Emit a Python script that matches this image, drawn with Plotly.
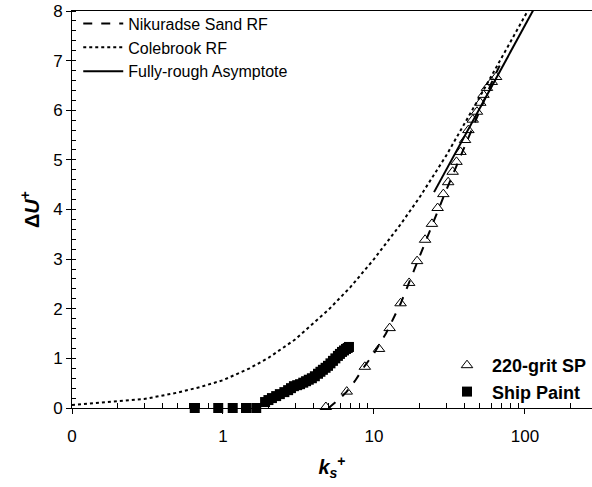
import plotly.graph_objects as go

# ---- data ----
grit_k = [4.8, 6.6, 8.7, 10.8, 12.7, 15.0, 17.1, 19.3, 21.8, 24.2, 26.4, 28.8, 31.0, 33.2,
          35.2, 37.4, 40.1, 42.2, 45.1, 48.1, 50.6, 53.1, 56.0, 60.3, 64.4]
grit_du = [0.02, 0.33, 0.83, 1.19, 1.61, 2.11, 2.52, 2.96, 3.39, 3.71, 4.03, 4.31, 4.55, 4.76,
           4.96, 5.16, 5.40, 5.60, 5.81, 5.97, 6.15, 6.31, 6.45, 6.57, 6.67]

paint_k = [0.65, 0.93, 1.16, 1.42, 1.66, 1.90, 2.0, 2.11, 2.25, 2.38, 2.55, 2.70, 2.82, 2.95,
           3.10, 3.24, 3.40, 3.55, 3.70, 3.88, 4.06, 4.26, 4.42, 4.59, 4.78, 4.96, 5.15,
           5.35, 5.55, 5.77, 5.95, 6.14, 6.33, 6.53, 6.70, 6.83]
paint_du = [0.0, 0.0, 0.0, 0.0, 0.0, 0.12, 0.16, 0.20, 0.24, 0.28, 0.32, 0.36, 0.40, 0.44,
            0.46, 0.48, 0.51, 0.54, 0.57, 0.60, 0.64, 0.69, 0.73, 0.77, 0.81, 0.85, 0.90,
            0.95, 1.00, 1.05, 1.09, 1.13, 1.16, 1.19, 1.21, 1.23]

nik_k = [5.0, 6.0, 6.6, 7.5, 8.7, 10.0, 12.0, 15.0, 18.0, 20.0, 25.0, 30.0, 35.0, 40.0,
         50.0, 60.0, 68.0]
nik_du = [0.0, 0.20, 0.33, 0.55, 0.85, 1.10, 1.50, 2.10, 2.70, 3.05, 3.80, 4.38, 4.86, 5.28,
          6.00, 6.55, 6.90]

cole_k = [0.1, 0.2, 0.3, 0.5, 0.7, 1.0, 1.5, 2.0, 3.0, 5.0, 7.0, 10.0, 15.0, 20.0, 30.0,
          50.0, 70.0, 100.0, 106.0]
cole_du = [0.06, 0.13, 0.18, 0.31, 0.42, 0.56, 0.80, 1.01, 1.38, 1.98, 2.44, 3.00, 3.70,
           4.24, 5.08, 6.26, 7.05, 7.90, 8.04]

asym_k = [25.0, 115.0]
asym_du = [4.35, 8.05]

x_tickvals = [0.1, 1, 10, 100]
x_ticktext = ["0", "1", "10", "100"]

FONT = "Liberation Sans, Arial, sans-serif"

fig = go.Figure()
fig.add_trace(go.Scatter(x=nik_k, y=nik_du, mode="lines", name="Nikuradse Sand RF",
                         line=dict(color="black", width=2, dash="dash"), legend="legend"))
fig.add_trace(go.Scatter(x=cole_k, y=cole_du, mode="lines", name="Colebrook RF",
                         line=dict(color="black", width=2, dash="dot"), legend="legend"))
fig.add_trace(go.Scatter(x=asym_k, y=asym_du, mode="lines", name="Fully-rough Asymptote",
                         line=dict(color="black", width=2), legend="legend"))
fig.add_trace(go.Scatter(x=grit_k, y=grit_du, mode="markers", name="<b>220-grit SP</b>",
                         marker=dict(symbol="triangle-up-open", size=10, color="black",
                                     line=dict(width=1, color="black")),
                         legend="legend2", cliponaxis=False))
fig.add_trace(go.Scatter(x=paint_k, y=paint_du, mode="markers", name="<b>Ship Paint</b>",
                         marker=dict(symbol="square", size=10, color="black"),
                         legend="legend2", cliponaxis=False))

minor_x = [0.2, 0.3, 0.4, 0.5, 0.6, 0.7, 0.8, 0.9, 2, 3, 4, 5, 6, 7, 8, 9,
           20, 30, 40, 50, 60, 70, 80, 90, 200]

fig.update_layout(
    width=592, height=487,
    margin=dict(l=72, r=0, t=11, b=79),
    paper_bgcolor="white", plot_bgcolor="white",
    font=dict(family=FONT, color="black", size=17),
    xaxis=dict(type="log", range=[-1, 2.444], showgrid=False, zeroline=False,
               showline=True, linecolor="black", linewidth=1, mirror=True,
               tickmode="array", tickvals=x_tickvals, ticktext=x_ticktext,
               ticks="outside", ticklen=5, tickcolor="black", ticklabelstandoff=8,
               tickfont=dict(size=17, family=FONT),
               minor=dict(tickmode="array", tickvals=minor_x, ticks="inside",
                          ticklen=5, tickcolor="black", showgrid=False),
               title=dict(text="<b><i>k<sub>s</sub></i><sup>+</sup></b>",
                          font=dict(size=20, family=FONT), standoff=14)),
    yaxis=dict(range=[0, 8], showgrid=False, zeroline=False,
               showline=True, linecolor="black", linewidth=1,
               tickmode="linear", tick0=0, dtick=1,
               ticks="outside", ticklen=5, tickcolor="black",
               tickfont=dict(size=17, family=FONT),
               minor=dict(dtick=0.2, ticks="inside", ticklen=4, tickcolor="black",
                          showgrid=False),
               title=dict(text="<b>Δ<i>U</i><sup>+</sup></b>",
                          font=dict(size=20, family=FONT), standoff=8)),
    legend=dict(x=0.012, y=1.011, xanchor="left", yanchor="top",
                bgcolor="rgba(0,0,0,0)", font=dict(size=16, family=FONT),
                tracegroupgap=0, itemwidth=40),
    legend2=dict(x=1.0, y=-0.005, xanchor="right", yanchor="bottom",
                 bgcolor="rgba(0,0,0,0)", font=dict(size=18, family=FONT),
                 itemwidth=40),
)

fig.write_html("out.html")
